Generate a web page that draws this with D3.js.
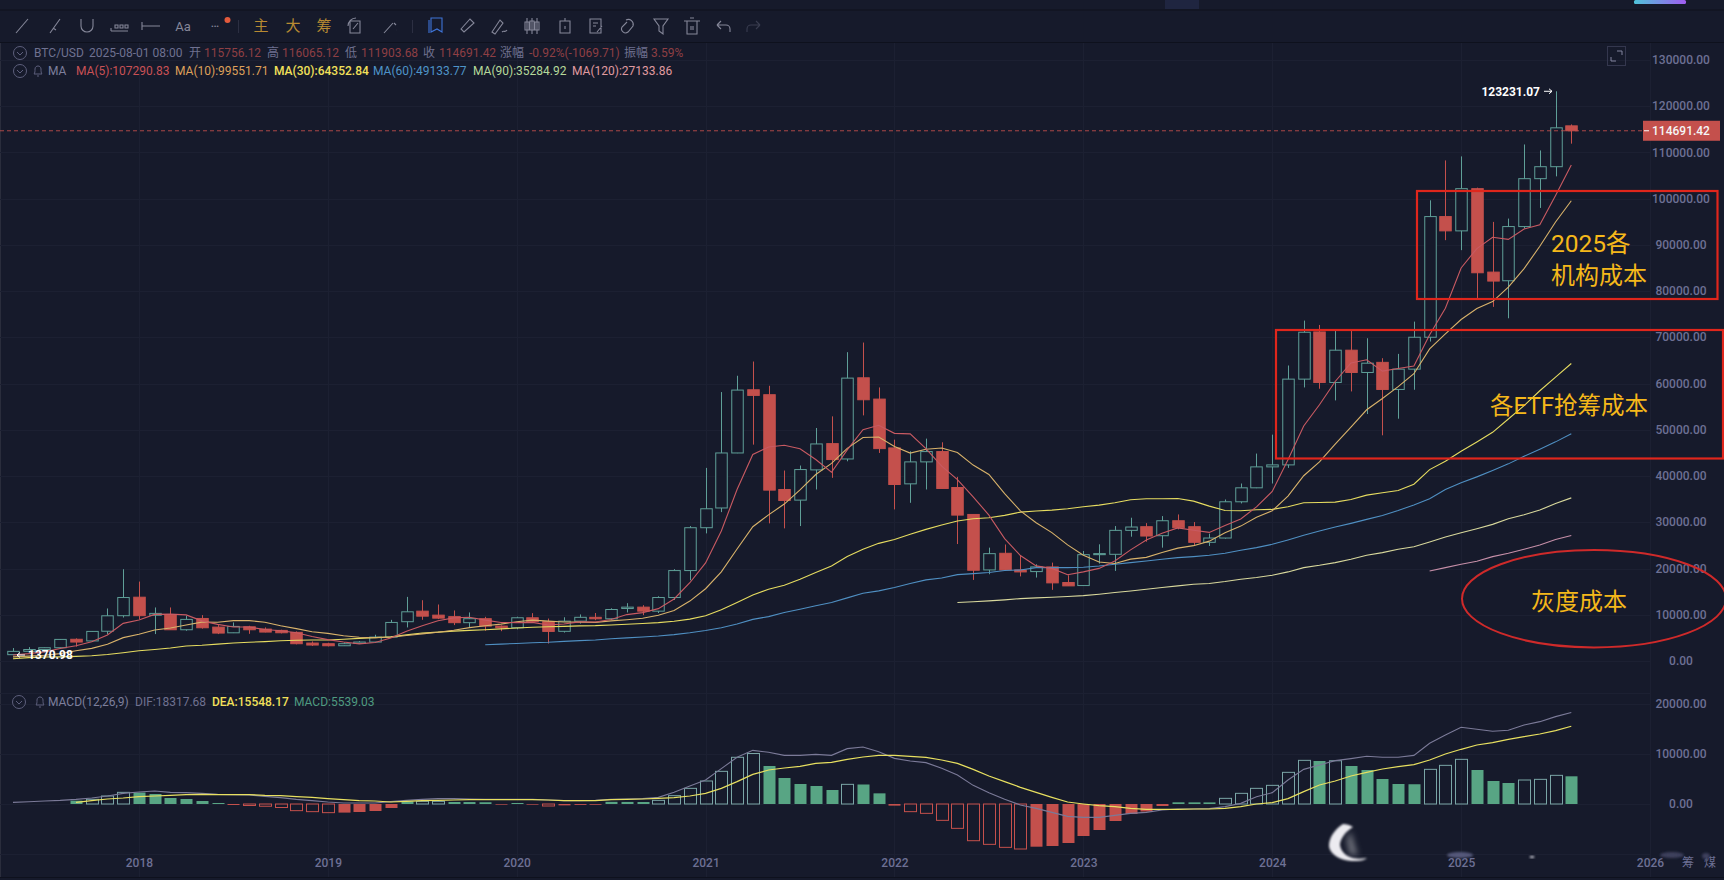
<!DOCTYPE html>
<html><head><meta charset="utf-8">
<script src="https://cdn.jsdelivr.net/npm/d3@7/dist/d3.min.js"></script>
<style>
html,body{margin:0;padding:0;background:#161a2b;overflow:hidden}
svg{display:block}
text{font-family:Roboto,"Noto Sans CJK SC",sans-serif}
</style></head><body>
<svg id="c" width="1724" height="880"></svg>
<script>
const opens=[1370,2100,2480,2870,4700,4340,6440,9800,13800,9900,
10000,6760,9200,7330,6100,7400,6900,6620,6200,3880,
3740,3300,3800,4100,5170,8500,10780,9920,9600,8290,
9150,7550,7190,9350,8520,6420,8620,9450,9130,11350,
11650,10780,13730,19560,28830,33100,45000,58670,57600,37100,
34800,41340,47020,43700,61260,56650,46090,38320,43070,45300,
37530,31700,19700,23300,19700,19340,20350,16970,16320,23000,
23080,28260,29050,27100,30340,29050,25670,26600,34440,37460,
41990,42420,60970,71180,60250,67230,62410,64600,58740,63130,
70030,96130,93040,102170,84120,82250,93970,104330,106920,115756.12];
const closes=[2085,2480,2870,4670,4100,6400,9780,13730,9800,10300,
6760,9000,7190,6040,7480,6760,6260,6110,3740,3450,
3300,3740,4100,5170,8340,10640,9700,9270,8290,9150,
7550,7190,9350,8520,6400,8620,9450,9130,11140,11650,
10780,13730,19560,28830,32930,45000,58600,57450,36960,34730,
41410,46950,43570,61190,56510,45940,38180,43070,45300,37320,
31560,19630,23220,19700,19270,20350,16900,16250,23000,23230,
28260,28980,27030,30340,28830,25670,26600,34440,37460,41990,
42420,60970,71110,60250,67230,62410,64420,58740,63130,70030,
96130,93040,102170,83980,82180,93970,104330,106920,115330,114691.42];
const highs=[2800,3000,2900,4750,4900,6470,11360,19850,17180,11580,
11580,9780,9920,7770,8340,7620,7260,6760,6400,4240,
3950,4030,4300,5680,8900,13870,13150,12220,10930,10500,
9560,7700,9580,10350,9180,9460,10070,10380,11400,12510,
12070,14000,19860,29190,41770,58170,61700,64780,59530,41200,
42280,50400,52920,66800,68880,59170,47880,45370,48100,47310,
39830,31700,24520,25200,22860,20920,21280,18550,23800,25240,
29190,30990,29820,31350,31700,30050,27540,34940,38390,44870,
48960,63920,73630,72690,71610,71610,69810,65500,66430,73410,
99650,108280,109150,102390,94980,95700,111730,110440,123231.07,116065.12];
const lows=[1370.98,2100,1850,2660,3100,4100,5800,9400,9060,5820,
6760,6540,7000,5820,6040,5880,6200,5970,3600,3240,
3160,3240,3750,4050,5100,7260,8910,9060,7770,7260,
6540,6450,6850,8400,3780,6150,8100,8830,8900,10500,
9920,10380,13200,17470,27600,32200,44950,46800,29770,28690,
29190,37100,39620,43200,53130,45000,32790,34220,37100,37320,
25300,17540,18770,19500,18300,18050,15390,16250,16250,21070,
19490,26890,25810,24520,28470,24880,24880,26460,34080,37390,
38390,41770,59170,58890,56370,58310,53420,48820,52410,58670,
69100,91030,88870,78230,76600,74130,93540,98000,104830,111903.68];
const ma5=[1290,1594,1974,2700,3298,4166,5630,8136,8856,10088,
10140,9980,8680,7920,7360,7340,6800,6560,6100,5300,
4620,4110,3710,3990,4970,6430,7620,8700,9320,9470,
8840,8340,8310,8350,7800,8014,8464,8420,8990,10040,
10470,11330,13420,16930,21220,28110,37100,44680,46300,46680,
45920,43580,40820,45680,50020,50980,49240,49120,45960,42140,
39240,35520,31560,26460,22820,20570,20030,18660,19280,20030,
21620,24040,26170,27630,28800,28280,27820,29300,30720,33340,
36680,43520,50840,55420,60460,64460,65160,62700,63260,63820,
70580,76320,85020,89220,91660,91200,93440,94380,100680,107290.83];
const ma10=[900,1050,1250,1600,2200,2728,3612,5055,5778,6693,
7153,7805,8408,8388,8724,8740,8390,7620,7010,6330,
5980,5455,5135,5045,5135,5525,5865,6205,6655,7220,
7635,7980,8505,8835,8635,8427,8402,8365,8670,8920,
9242,9897,10920,12960,15630,19290,24215,29050,31615,33950,
37015,40340,42750,45990,48350,48450,46410,44970,45820,46080,
45110,42380,40340,36210,32480,29905,27775,25110,22870,21425,
21095,22035,22415,23455,24415,24950,25930,27735,29175,31070,
32480,35670,40070,43070,46900,50570,54340,56770,59340,62140,
67520,70740,73860,76240,77740,80890,84880,89700,94950,99551.71];
const ma30=[500,720,860,900,1000,1150,1400,1800,2230,2500,
2800,3240,3400,3650,3880,4050,4200,4390,4500,4530,
4550,4700,4890,5050,5250,5650,6040,6250,6470,6620,
6760,6950,7150,7300,7400,7500,7600,7650,7800,7950,
8100,8300,8600,9060,9780,11070,12650,14300,15530,16390,
17690,19130,20560,22580,24160,25450,26300,27400,28470,29400,
30270,30770,31000,31500,32200,32430,32640,32930,33360,33720,
34220,34870,35090,35090,35160,34580,33500,32570,32500,32710,
32790,33360,34220,34300,34370,34940,35880,36380,36880,38250,
41400,43200,45370,47380,49470,52340,55220,58450,61400,64352.84];
const ma60=[null,null,null,null,null,null,null,null,null,null,
null,null,null,null,null,null,null,null,null,null,
null,null,null,null,null,null,null,null,null,null,
3520,3650,3800,3950,4050,4250,4400,4550,4800,5000,
5200,5400,5700,6100,6600,7200,8000,9000,9600,10500,
11200,11950,12650,13650,14670,15170,15890,16750,17540,17970,
18690,18900,19130,19560,19700,20200,20200,20200,20280,20560,
20920,21280,21640,22000,22360,22580,22860,23300,23940,24520,
25240,26170,27180,28110,28980,29770,30630,31490,32570,33750,
35100,37100,38540,39830,41200,42640,44290,45800,47400,49133.77];
const ma90=[null,null,null,null,null,null,null,null,null,null,
null,null,null,null,null,null,null,null,null,null,
null,null,null,null,null,null,null,null,null,null,
null,null,null,null,null,null,null,null,null,null,
null,null,null,null,null,null,null,null,null,null,
null,null,null,null,null,null,null,null,null,null,
12650,12800,13000,13230,13500,13650,13800,13950,14150,14450,
14810,15150,15530,15900,16250,16610,16750,17180,17690,18050,
18550,19270,20200,20700,21280,22000,22860,23440,24160,24730,
25740,26820,27750,28620,29550,30770,31640,32640,34080,35284.92];
const ma120=[null,null,null,null,null,null,null,null,null,null,
null,null,null,null,null,null,null,null,null,null,
null,null,null,null,null,null,null,null,null,null,
null,null,null,null,null,null,null,null,null,null,
null,null,null,null,null,null,null,null,null,null,
null,null,null,null,null,null,null,null,null,null,
null,null,null,null,null,null,null,null,null,null,
null,null,null,null,null,null,null,null,null,null,
null,null,null,null,null,null,null,null,null,null,
19480,20200,20920,21570,22580,23300,24160,25090,26300,27133.86];
const dif=[330,450,600,730,930,1200,1600,2130,2400,2600,
2330,2270,2130,1930,1870,1800,1530,1270,930,670,
400,200,200,200,470,730,930,1070,1070,1000,
930,930,930,930,800,670,670,730,930,1000,
1070,1330,2330,3600,4800,7070,9340,10730,10340,9730,
9730,9930,9730,11070,11400,10470,9130,8600,8270,7130,
5800,3730,2270,930,-200,-870,-1670,-2470,-2670,-2670,
-2270,-1870,-1670,-1200,-1000,-1000,-930,-530,130,1470,
2270,4800,6930,7800,8670,9070,9540,9340,9340,9730,
12140,13800,15340,14940,14540,14740,15800,16470,17470,18317.68];
const dea=[null,null,null,null,330,670,1000,1200,1470,1600,
1730,1870,1930,1870,1870,1870,1730,1670,1470,1330,
1070,870,670,600,400,530,670,730,800,870,
870,870,870,870,800,670,670,670,870,930,
1000,1130,1270,1600,2130,3130,4470,5930,6800,7200,
7530,8130,8330,8930,9400,9730,9730,9530,9340,8800,
8130,6930,5600,4470,3330,2330,1330,400,0,-330,
-530,-870,-1070,-1070,-1070,-1000,-1000,-870,-530,0,
270,1070,2470,3800,4600,5600,6330,7000,7470,7870,
8800,10000,10940,11800,12270,12930,13470,14000,14670,15548.17];
const macdHist=[null,null,null,null,670,930,1600,2330,2300,2000,
1200,1000,600,200,-200,-300,-450,-700,-1330,-1530,
-1730,-1720,-1600,-1400,-800,530,530,530,400,390,
350,-130,200,-130,-400,-270,-180,-150,430,415,
400,730,1670,3130,4600,6530,9340,10100,7600,5200,
4000,3600,2800,3930,3900,2130,-330,-1530,-1870,-3270,
-4870,-7340,-8070,-8670,-9000,-8540,-8400,-7800,-6400,-5200,
-3400,-2000,-1500,-400,340,330,320,1130,2130,3130,
3730,6330,8730,8600,8650,7600,6800,5000,4000,3950,
6930,7730,8930,6800,4600,4200,4800,4930,5730,5539.03];
const priceTicks=[0,10000,20000,30000,40000,50000,60000,70000,80000,90000,100000,110000,120000,130000];
const macdTicks=[0,10000,20000];
const yearLabels=["2018","2019","2020","2021","2022","2023","2024","2025","2026"];
const header1=[["BTC/USD",34,"g"],["2025-08-01 08:00",89,"g"],["开",189,"g"],["115756.12",204,"r"],["高",267,"g"],["116065.12",282,"r"],["低",345,"g"],["111903.68",361,"r"],["收",423,"g"],["114691.42",439,"r"],["涨幅",500,"g"],["-0.92%(-1069.71)",529,"r"],["振幅",624,"g"],["3.59%",651,"r"]];
const header2=[["MA",48,"#7d7f9c"],["MA(5):107290.83",76,"#c95155"],["MA(10):99551.71",175,"#dea05a"],["MA(30):64352.84",274,"#f2e05a"],["MA(60):49133.77",373,"#4e94c8"],["MA(90):35284.92",473,"#b5d99a"],["MA(120):27133.86",572,"#e09aa0"]];

const months=d3.range(105).map(i=>{const d=new Date(2017,4+i,1);return d3.timeFormat("%Y-%m")(d);});
const svg=d3.select("#c");
const BG="#161a2b",GRID="#1c2032",AXIS="#6d7094",UP="#5f9f98",DN="#c4504c";
const RIGHT=1650;
const x=d3.scalePoint().domain(months).range([13,1650]);
const y=d3.scaleLinear().domain([0,130000]).range([661,60]);
const ym=d3.scaleLinear().domain([0,20000]).range([804,704]);

svg.append("rect").attr("width",1724).attr("height",880).attr("fill",BG);
// chrome
svg.append("rect").attr("x",1165).attr("y",0).attr("width",34).attr("height",9).attr("fill","#1f2540");
const gr=svg.append("defs").append("linearGradient").attr("id","gb");
gr.append("stop").attr("offset","0").attr("stop-color","#4fc3d9");
gr.append("stop").attr("offset","1").attr("stop-color","#a05cf0");
svg.append("rect").attr("x",1634).attr("y",0).attr("width",52).attr("height",4).attr("rx",1.5).attr("fill","url(#gb)");
svg.append("line").attr("x1",0).attr("x2",1724).attr("y1",10).attr("y2",10).attr("stroke","#0e111d");
svg.append("line").attr("x1",0).attr("x2",1724).attr("y1",42.5).attr("y2",42.5).attr("stroke","#0e111d");
svg.append("line").attr("x1",0).attr("x2",1724).attr("y1",877.5).attr("y2",877.5).attr("stroke","#0e111d");
svg.append("line").attr("x1",0.5).attr("x2",0.5).attr("y1",43).attr("y2",877).attr("stroke","#2a2d3c");

// grid
const g=svg.append("g").attr("stroke",GRID).attr("stroke-width",1);
priceTicks.forEach(t=>g.append("line").attr("x1",0).attr("x2",RIGHT).attr("y1",Math.round(y(t))+.5).attr("y2",Math.round(y(t))+.5));
[-10000,0,10000,20000].forEach(t=>g.append("line").attr("x1",0).attr("x2",RIGHT).attr("y1",Math.round(ym(t))+.5).attr("y2",Math.round(ym(t))+.5));
g.append("line").attr("x1",0).attr("x2",RIGHT).attr("y1",693.5).attr("y2",693.5);
const yearKey=l=>l+"-01";
yearLabels.forEach(l=>g.append("line").attr("x1",Math.round(x(yearKey(l)))+.5).attr("x2",Math.round(x(yearKey(l)))+.5).attr("y1",43).attr("y2",877));

// axes
const ax=svg.append("g").call(d3.axisRight(y).tickValues(priceTicks).tickSize(0).tickFormat(d=>d.toFixed(2)));
const am=svg.append("g").call(d3.axisRight(ym).tickValues(macdTicks).tickSize(0).tickFormat(d=>d.toFixed(2)));
[ax,am].forEach(a=>{a.select(".domain").remove();a.selectAll("text").attr("x",1681).attr("dy",".3em").attr("text-anchor","middle").attr("fill",AXIS).attr("font-size",12).attr("font-weight",500).attr("font-family","Roboto");});
const ab=svg.append("g").attr("transform","translate(0,863)").call(d3.axisBottom(x).tickValues(yearLabels.map(yearKey)).tickSize(0).tickFormat(d=>d.slice(0,4)));
ab.select(".domain").remove();
ab.selectAll("text").attr("y",0).attr("dy",".36em").attr("fill",AXIS).attr("font-size",12).attr("font-weight",500).attr("font-family","Roboto");
svg.append("text").text("筹").attr("x",1688).attr("y",863).attr("dy",".36em").attr("text-anchor","middle").attr("font-size",12).attr("fill",AXIS);
svg.append("text").text("煤").attr("x",1710).attr("y",863).attr("dy",".36em").attr("text-anchor","middle").attr("font-size",12).attr("fill",AXIS);

// candles
const W=11.5;
const cg=svg.append("g").selectAll("g").data(opens).enter().append("g");
const isUp=i=>closes[i]>=opens[i];
const px=i=>Math.round(x(months[i]));
cg.append("line").attr("x1",(d,i)=>px(i)+.5).attr("x2",(d,i)=>px(i)+.5)
 .attr("y1",(d,i)=>y(highs[i])).attr("y2",(d,i)=>y(lows[i]))
 .attr("stroke",(d,i)=>isUp(i)?UP:DN).attr("stroke-width",1);
cg.append("rect").attr("x",(d,i)=>px(i)+.5-W/2).attr("width",W)
 .attr("y",(d,i)=>y(Math.max(opens[i],closes[i])))
 .attr("height",(d,i)=>Math.max(1,Math.abs(y(opens[i])-y(closes[i]))))
 .attr("fill",(d,i)=>isUp(i)?BG:DN).attr("stroke",(d,i)=>isUp(i)?UP:DN).attr("stroke-width",1);

// MA lines
const line=d3.line().defined(d=>d!==null).x((d,i)=>x(months[i])).y(d=>y(d));
[[ma120,"#c68fa8"],[ma90,"#d8d89c"],[ma60,"#4f8fc2"],[ma30,"#e6dc60"],[ma10,"#d8b26a"],[ma5,"#c85a62"]].forEach(([s,c])=>
 svg.append("path").attr("d",line(s)).attr("fill","none").attr("stroke",c).attr("stroke-width",1.1));

// last price
svg.append("line").attr("x1",0).attr("x2",1643).attr("y1",y(closes[99])).attr("y2",y(closes[99])).attr("stroke",DN).attr("stroke-opacity",.85).attr("stroke-dasharray","4 3");
svg.append("rect").attr("x",1643).attr("y",y(closes[99])-10).attr("width",77).attr("height",20).attr("fill",DN);
svg.append("line").attr("x1",1644).attr("x2",1649).attr("y1",y(closes[99])).attr("y2",y(closes[99])).attr("stroke","#fff");
svg.append("text").text(closes[99].toFixed(2)).attr("x",1681).attr("y",y(closes[99])).attr("dy",".36em").attr("text-anchor","middle").attr("fill","#f5f5f5").attr("font-size",12).attr("font-weight",500);

// extreme labels
svg.append("text").text(highs[98].toFixed(2)).attr("x",1540).attr("y",y(highs[98])).attr("dy",".36em").attr("text-anchor","end").attr("fill","#fff").attr("font-size",12).attr("font-weight",700);
svg.append("path").attr("d",`M1544 ${y(highs[98])}H1552m-3-2.5l3 2.5l-3 2.5`).attr("fill","none").attr("stroke","#fff");
svg.append("text").text(lows[0].toFixed(2)).attr("x",28).attr("y",655).attr("dy",".36em").attr("fill","#fff").attr("font-size",12).attr("font-weight",700);
svg.append("path").attr("d","M17 655H25m-8 0l3-2.5m-3 2.5l3 2.5").attr("fill","none").attr("stroke","#fff");

// MACD bars
const hollow=i=>{const v=macdHist[i],p=macdHist[i-1];return p!=null&&p*v>0&&Math.abs(v)>=Math.abs(p);};
const mG="#58a584",mGs="#7aa5a6",mR="#c4504c";
const mb=svg.append("g").selectAll("rect").data(macdHist.map((v,i)=>({v,i})).filter(d=>d.v!==null)).enter().append("rect");
mb.attr("x",d=>px(d.i)+.5-6).attr("width",12)
 .attr("y",d=>Math.min(ym(0),ym(d.v)))
 .attr("height",d=>Math.abs(ym(d.v)-ym(0)))
 .attr("fill",d=>hollow(d.i)?"none":(d.v>0?mG:mR))
 .attr("stroke",d=>hollow(d.i)?(d.v>0?mGs:mR):"none");
svg.append("path").attr("d",line.y(d=>ym(d))(dif)).attr("fill","none").attr("stroke","#7b7a98").attr("stroke-width",1.1);
svg.append("path").attr("d",line.y(d=>ym(d))(dea)).attr("fill","none").attr("stroke","#e8e060").attr("stroke-width",1.2);

// header texts
const col={g:"#6f7190",r:"#8e3f44"};
const ht=(t,xx,yy,c,w)=>svg.append("text").text(t).attr("x",xx).attr("y",yy).attr("dy",".36em").attr("fill",c).attr("font-size",12).attr("font-weight",w||400);
header1.forEach(([t,xx,k])=>ht(t,xx,53,col[k]));
header2.forEach(([t,xx,c])=>ht(t,xx,71,c,c==="#f2e05a"?500:400));
ht("MACD(12,26,9)",48,702,"#7d7f9c");
ht("DIF:18317.68",135,702,"#6f7190");
ht("DEA:15548.17",212,702,"#f2e05a",500);
ht("MACD:5539.03",294,702,"#4f9b80");

// chevron + bell
const chrome=svg.append("g").attr("fill","none").attr("stroke","#5d5f7c");
[[20,53],[20,71],[19,702]].forEach(([a,b])=>{chrome.append("circle").attr("cx",a).attr("cy",b).attr("r",6.5);chrome.append("path").attr("d",`M${a-3} ${b-1}l3 3l3-3`);});
[[38,71],[40,702]].forEach(([a,b])=>chrome.append("path").attr("d",`M${a-4} ${b+3}c1-1 1-3 1-5c0-4 6-4 6 0c0 2 0 4 1 5zM${a-1} ${b+5}h2`));
chrome.append("rect").attr("x",1607.5).attr("y",46.5).attr("width",18).attr("height",19).attr("stroke","#34374e");
chrome.append("path").attr("d","M1617 51h5v4M1616 61h-5v-4").attr("stroke","#8385a0");

// toolbar
const icon="#858799";
const tb=svg.append("g").attr("fill","none").attr("stroke",icon).attr("stroke-width",1.1);
const ic=[[22,"M-6 7L6-7M-5 6h.1M0 1h.1M4-4h.1"],[55,"M-5 7L5-7M-2 2l3 2"],[87,"M-6-7v7a6 6 0 0 0 12 0v-7"],[119,"M-8 5H9M-8 5v-3M-4-1h3v3h-3zM1-1h3v3h-3zM6-1h3v3h-3z"],[151,"M-9-4v8M-9 0H9"],[356,"M-6-5h10v12h-10zM-3 3l5-6M-8 0a8 8 0 0 1 8-8"],[390,"M-6 7L3-3M4-3l2 2M6 4h.1"],[467,"M-6 3L3-7l4 4L-3 6z"],[499,"M-7 6L1-6l3 3L-4 8zM3 6c2-2 3 1 5-2"],[532,"M-7-4h4v8h-4zM-2-5h4v9h-4zM3-4h4v8h-4zM-5-8v16M0-8v16M5-8v16"],[565,"M-5-5h10v12h-10zM0-8v3M0 0v3"],[596,"M-6-7h11v14h-11zM-3-3h5M-3 0h3M1 6l5-6"],[628,"M-2-6a5 5 0 0 1 7 6l-5 6a4 4 0 0 1-6-5l5-5"],[661,"M-7-7H7L2 0V8L-2 5V0z"],[692,"M-8-5H8M-5-5V8H5V-5M-2-8h4M-1 0v4M1 0v4"],[723,"M-6-1l4-4M-6-1l4 4M-6-1H3a4 4 0 0 1 4 4v3"]];
ic.forEach(([a,d])=>tb.append("path").attr("d",d).attr("transform",`translate(${a},26)`));
tb.append("path").attr("d","M-6 -1l4-4M-6 -1l4 4M-6 -1H3a4 4 0 0 1 4 4v3").attr("transform","translate(754,26) scale(-1,1)").attr("stroke","#3a3d50");
tb.append("path").attr("d","M-6-8h11v14l-5-3l-6 3zM-8-6v13").attr("transform","translate(437,26)").attr("stroke","#3f74d8");
svg.append("text").text("Aa").attr("x",183).attr("y",26).attr("dy",".36em").attr("text-anchor","middle").attr("font-size",13).attr("fill",icon);
svg.append("text").text("•••").attr("x",215).attr("y",26).attr("dy",".36em").attr("text-anchor","middle").attr("font-size",8).attr("fill",icon);
svg.append("circle").attr("cx",227.5).attr("cy",20).attr("r",3).attr("fill","#e35a3c");
svg.append("line").attr("x1",238.5).attr("x2",238.5).attr("y1",20).attr("y2",33).attr("stroke","#2c2f42");
svg.append("line").attr("x1",412.5).attr("x2",412.5).attr("y1",20).attr("y2",33).attr("stroke","#2c2f42");
[["主",261],["大",293],["筹",324]].forEach(([t,a])=>svg.append("text").text(t).attr("x",a).attr("y",26).attr("dy",".36em").attr("text-anchor","middle").attr("font-size",15).attr("fill","#b88a32"));

// hand annotations
const RED="#e0261c",GOLD="#f5b81a";
svg.append("rect").attr("x",1417).attr("y",191).attr("width",300.5).attr("height",108).attr("fill","none").attr("stroke",RED).attr("stroke-width",2.2);
svg.append("rect").attr("x",1276).attr("y",330).attr("width",447).attr("height",128.5).attr("fill","none").attr("stroke",RED).attr("stroke-width",2.2);
svg.append("ellipse").attr("cx",1594).attr("cy",598.7).attr("rx",132).attr("ry",48.7).attr("fill","none").attr("stroke","#cf2a2a").attr("stroke-width",2);
[["2025各",1551,243,24.5],["机构成本",1551,275,24],["各ETF抢筹成本",1490,406,23.5],["灰度成本",1531,601,24]].forEach(([t,a,b,s])=>
 svg.append("text").text(t).attr("x",a).attr("y",b).attr("dy",".36em").attr("font-size",s).attr("fill",GOLD).attr("font-family",'"Noto Sans CJK SC"'));

// watermark remnant
const blur=svg.select("defs").append("filter").attr("id","bl").attr("x","-30%").attr("y","-30%").attr("width","160%").attr("height","160%");
blur.append("feGaussianBlur").attr("stdDeviation",1.1);
const blur2=svg.select("defs").append("filter").attr("id","bl2").attr("x","-50%").attr("y","-50%").attr("width","200%").attr("height","200%");
blur2.append("feGaussianBlur").attr("stdDeviation",3);
svg.append("path").attr("d","M1350 831C1353 838 1354 848 1358 855L1350 854L1347 840Z").attr("fill","#7d7f88").attr("filter","url(#bl2)");
svg.append("path").attr("d","M1343 824C1334 830 1329 838 1329 846C1330 856 1344 862 1357 861C1361 861 1365 860 1367 858C1360 859 1354 859 1350 857C1345 855 1341 851 1340 845C1340 839 1346 831 1353 827C1350 825 1346 824 1343 824Z").attr("fill","#ecebf0").attr("filter","url(#bl)");
[[1460,855,13,3,"#55587a"],[1532,857,2.5,1,"#d8d8e0"],[1672,855,12,3,"#3c3f5c"],[1706,856,4,3,"#3c3f5c"]].forEach(([a,b,rx,ry,c])=>
 svg.append("ellipse").attr("cx",a).attr("cy",b).attr("rx",rx).attr("ry",ry).attr("fill",c).attr("filter","url(#bl)"));
</script></body></html>
